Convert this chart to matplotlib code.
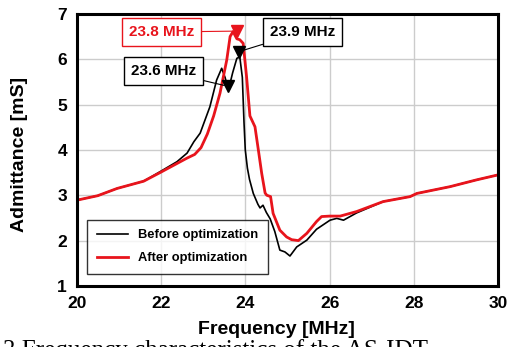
import numpy as np
import matplotlib.pyplot as plt

plt.rcParams['font.family'] = ['Liberation Sans', 'DejaVu Sans']

# Admittance curves (MHz, mS)
freq_before = [20.0, 20.5, 20.96, 21.59, 21.98, 22.38, 22.62, 22.78, 22.93, 23.16, 23.32,
               23.44, 23.52, 23.6, 23.7, 23.8, 23.87, 23.93, 23.97, 24.0, 24.05, 24.1,
               24.19, 24.3, 24.35, 24.42, 24.5, 24.59, 24.7, 24.82, 24.94, 25.06, 25.22,
               25.46, 25.69, 25.77, 26.01, 26.17, 26.33, 26.64, 27.27, 27.91, 28.07,
               28.86, 29.49, 30.0]
adm_before = [2.89, 2.99, 3.15, 3.31, 3.52, 3.74, 3.93, 4.18, 4.37, 4.95, 5.54,
              5.80, 5.6, 5.32, 5.7, 6.02, 6.05, 5.6, 4.6, 4.0, 3.6, 3.35,
              3.04, 2.8, 2.72, 2.78, 2.62, 2.48, 2.2, 1.79, 1.75, 1.66, 1.86,
              2.01, 2.25, 2.3, 2.45, 2.49, 2.45, 2.61, 2.86, 2.97, 3.04,
              3.19, 3.34, 3.45]

freq_after = [20.0, 20.5, 20.96, 21.59, 21.98, 22.38, 22.62, 22.8, 22.95, 23.1, 23.25, 23.4,
              23.56, 23.64, 23.71, 23.8, 23.87, 23.95, 24.03, 24.11, 24.23, 24.31, 24.39,
              24.47, 24.51, 24.6, 24.66, 24.82, 24.98, 25.1, 25.26, 25.46, 25.69,
              25.81, 26.0, 26.25, 26.64, 27.27, 27.91, 28.07, 28.86, 29.49, 30.0]
adm_after = [2.89, 2.99, 3.15, 3.31, 3.5, 3.7, 3.82, 3.9, 4.05, 4.35, 4.75, 5.25,
             5.98, 6.5, 6.61, 6.45, 6.43, 6.35, 5.62, 4.75, 4.51, 4.0, 3.48,
             3.05, 3.0, 2.97, 2.6, 2.23, 2.08, 2.02, 2.0, 2.16, 2.42,
             2.53, 2.54, 2.54, 2.64, 2.86, 2.97, 3.04, 3.19, 3.34, 3.45]

# resonance markers: (freq, admittance, label)
marks_before = [(23.6, 5.4, '23.6 MHz'), (23.86, 6.17, '23.9 MHz')]
marks_after = [(23.8, 6.62, '23.8 MHz')]

fig = plt.figure(figsize=(5.11, 3.47), dpi=100)
ax = fig.add_axes([0.150, 0.176, 0.825, 0.784])

ax.plot(freq_before, adm_before, color='black', lw=1.2, label='Before optimization')
ax.plot(freq_after, adm_after, color='#e8141c', lw=2.0, label='After optimization')

for f, a, _ in marks_before:
    ax.plot(f, a, 'v', color='black', ms=9)
for f, a, _ in marks_after:
    ax.plot(f, a, 'v', color='#e8141c', ms=9)

# callout boxes
callouts = [(marks_after[0], (22.02, 6.6), '#e8141c'),
            (marks_before[0], (22.05, 5.74), 'black'),
            (marks_before[1], (25.36, 6.6), 'black')]
for (f, a, txt), (tx, ty), col in callouts:
    ax.annotate(txt, xy=(f, a), xytext=(tx, ty), ha='center', va='center',
                fontsize=11, fontweight='bold', color=col,
                bbox=dict(boxstyle='square,pad=0.45', fc='white', ec=col, lw=1),
                arrowprops=dict(arrowstyle='-', color=col, lw=0.8, shrinkA=0, shrinkB=3))

ax.set_xlim(20, 30)
ax.set_ylim(1, 7)
ax.set_xticks([20, 22, 24, 26, 28, 30])
ax.set_yticks([1, 2, 3, 4, 5, 6, 7])
ax.grid(True, color='#cccccc', lw=1)
ax.set_axisbelow(True)
for s in ax.spines.values():
    s.set_linewidth(2.2)
ax.tick_params(length=0, labelsize=12.5, pad=7)
for lab in ax.get_xticklabels() + ax.get_yticklabels():
    lab.set_fontweight('bold')

ax.set_xlabel('Frequency [MHz]', fontsize=14, fontweight='bold')
ax.xaxis.set_label_coords(0.475, -0.13)
ax.set_ylabel('Admittance [mS]', fontsize=14, fontweight='bold')
ax.yaxis.set_label_coords(-0.115, 0.485)

leg = ax.legend(loc='lower left', bbox_to_anchor=(0.01, 0.02), fancybox=False,
                edgecolor='black', prop={'weight': 'bold', 'size': 9.3},
                handlelength=2.4, borderpad=0.75, labelspacing=0.85)
leg.get_frame().set_linewidth(1.0)

fig.text(0.005, -0.03, '3 Frequency characteristics of the AS-IDT', fontsize=18,
         family='Liberation Serif', va='baseline')

fig.savefig('out.png', dpi=100)
